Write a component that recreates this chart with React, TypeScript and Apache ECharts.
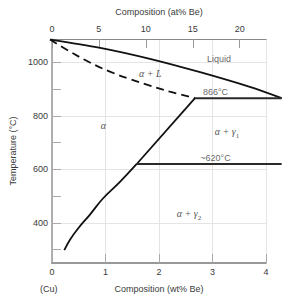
import React, { useEffect, useRef } from "react";
import * as echarts from "echarts";

// Axis ticks / labels
const wtMin = 0;
const wtMax = 4;
const wtTickInterval = 1;
const wtDrawMax = 4.3; // curves run past the framed axis
const atMax = 22.8;
const atTickValues = [0, 5, 10, 15, 20];
const tempMin = 250;
const tempMax = 1087;
const tempLabelValues = [400, 600, 800, 1000];
const tempTickValues = [300, 400, 500, 600, 700, 800, 900, 1000];

// Phase boundaries: [wt% Be, °C]
const liquidus = [[0, 1085], [0.93, 1054], [1.85, 1013], [2.78, 963], [3.7, 908], [4.29, 866]];
const solidus = [[0, 1085], [0.37, 1040], [0.74, 999], [1.11, 965], [1.48, 937], [1.85, 913], [2.22, 890], [2.685, 866]];
const solvusLower = [[0.265, 298], [0.37, 337], [0.52, 379], [0.74, 431], [0.98, 491], [1.3, 554], [1.606, 620]];
const solvusUpper = [[1.606, 620], [2.685, 866]];
const peritecticLine = [[2.685, 866], [4.29, 866]];
const eutectoidLine = [[1.606, 620], [4.29, 620]];

// Annotations: [wt% Be, °C]
const phaseLabels = [
  { name: "α + L", sub: "", value: [1.84, 958] },
  { name: "α", sub: "", value: [0.96, 763] },
  { name: "α + γ", sub: "1", value: [3.27, 742] },
  { name: "α + γ", sub: "2", value: [2.56, 435] },
];
const noteLabels = [
  { name: "Liquid", value: [3.12, 1013] },
  { name: "866°C", value: [3.056, 888] },
  { name: "~620°C", value: [3.056, 643] },
];

const sans = "'Liberation Sans', Arial, Helvetica, sans-serif";
const serif = "'Liberation Serif', 'DejaVu Serif', serif";
const textColor = "#3a3a3a";

const W = 294;
const GRID_LEFT = 50;
const GRID_RIGHT = 28;
const GRID_TOP = 39;
const GRID_BOTTOM = 41;

export default function App() {
  const ref = useRef<HTMLDivElement>(null);
  useEffect(() => {
    const chart = echarts.init(ref.current!, null, { renderer: "svg" });
    const plotW = W - GRID_LEFT - GRID_RIGHT;
    const overflowW = (plotW * (wtDrawMax - wtMin)) / (wtMax - wtMin);
    const lineBase = { type: "line", symbol: "none", clip: false, silent: true, xAxisIndex: 2, yAxisIndex: 2 };
    const hiddenAxis = { axisLine: { show: false }, axisTick: { show: false }, axisLabel: { show: false }, splitLine: { show: false } };
    chart.setOption({
      animation: false,
      backgroundColor: "#ffffff",
      grid: [
        { left: GRID_LEFT, right: GRID_RIGHT, top: GRID_TOP, bottom: GRID_BOTTOM },
        { left: GRID_LEFT, width: overflowW, top: GRID_TOP, bottom: GRID_BOTTOM },
      ],
      xAxis: [
        {
          gridIndex: 0, type: "value", position: "bottom", min: wtMin, max: wtMax, interval: wtTickInterval,
          name: "Composition (wt% Be)", nameLocation: "middle", nameGap: 21,
          nameTextStyle: { fontFamily: sans, fontSize: 9, color: textColor },
          axisLine: { lineStyle: { color: "#777777", width: 1.5 } },
          axisTick: { inside: true, length: 9, lineStyle: { color: "#aaaaaa" } },
          axisLabel: { margin: 4, fontFamily: sans, fontSize: 9, color: textColor },
          splitLine: { show: true, lineStyle: { color: "#e4e4e4", width: 1 } },
        },
        {
          gridIndex: 0, type: "value", position: "top", min: 0, max: atMax,
          name: "Composition (at% Be)", nameLocation: "middle", nameGap: 23,
          nameTextStyle: { fontFamily: sans, fontSize: 9, color: textColor },
          axisLine: { lineStyle: { color: "#888888", width: 1.2 } },
          axisTick: { inside: true, length: 9, customValues: atTickValues, lineStyle: { color: "#999999" } },
          axisLabel: { customValues: atTickValues, margin: 6, fontFamily: sans, fontSize: 9, color: textColor },
          splitLine: { show: false },
        },
        { gridIndex: 1, type: "value", min: wtMin, max: wtDrawMax, ...hiddenAxis },
      ],
      yAxis: [
        {
          gridIndex: 0, type: "value", position: "left", min: tempMin, max: tempMax,
          name: "Temperature (°C)", nameLocation: "middle", nameGap: 33,
          nameTextStyle: { fontFamily: sans, fontSize: 9, color: textColor },
          axisLine: { show: true, lineStyle: { color: "#999999", width: 1.5 } },
          axisTick: { show: false, customValues: tempLabelValues },
          axisLabel: { customValues: tempLabelValues, formatter: (v: number) => String(v), margin: 4, fontFamily: sans, fontSize: 9, color: textColor },
          splitLine: { show: true, lineStyle: { color: "#e4e4e4", width: 1 } },
        },
        {
          gridIndex: 0, type: "value", position: "left", min: tempMin, max: tempMax,
          axisLine: { show: false },
          axisTick: { show: true, inside: true, length: 9, customValues: tempTickValues, lineStyle: { color: "#aaaaaa" } },
          axisLabel: { show: false },
          splitLine: { show: false },
        },
        { gridIndex: 1, type: "value", min: tempMin, max: tempMax, ...hiddenAxis },
      ],
      series: [
        { ...lineBase, data: liquidus, smooth: 0.3, lineStyle: { color: "#111111", width: 1.8 } },
        { ...lineBase, data: solidus, smooth: 0.4, lineStyle: { color: "#111111", width: 1.8, type: [8, 5] } },
        { ...lineBase, data: solvusLower, smooth: 0.4, lineStyle: { color: "#111111", width: 1.8 } },
        { ...lineBase, data: solvusUpper, lineStyle: { color: "#111111", width: 1.8 } },
        { ...lineBase, data: peritecticLine, lineStyle: { color: "#2a2a2a", width: 2 } },
        { ...lineBase, data: eutectoidLine, lineStyle: { color: "#2a2a2a", width: 2 } },
        {
          type: "scatter", silent: true, symbolSize: 1, itemStyle: { color: "rgba(0,0,0,0)" },
          xAxisIndex: 0, yAxisIndex: 0,
          data: phaseLabels,
          label: {
            show: true, position: "inside",
            formatter: (p: any) => (p.data.sub ? `{b|${p.data.name}}{s|${p.data.sub}}` : `{b|${p.data.name}}`),
            rich: {
              b: { fontFamily: serif, fontStyle: "italic", fontSize: 10, color: "#222222", lineHeight: 16, verticalAlign: "middle" },
              s: { fontFamily: serif, fontSize: 7, color: "#222222", lineHeight: 16, verticalAlign: "bottom" },
            },
          },
        },
        {
          type: "scatter", silent: true, symbolSize: 1, itemStyle: { color: "rgba(0,0,0,0)" },
          xAxisIndex: 0, yAxisIndex: 0,
          data: noteLabels,
          label: { show: true, position: "inside", formatter: "{b}", fontFamily: sans, fontSize: 9, color: textColor },
        },
      ],
      graphic: [
        { type: "text", left: 40, top: 284, style: { text: "(Cu)", fontFamily: sans, fontSize: 9, fill: textColor } },
      ],
    });
    return () => chart.dispose();
  }, []);
  return <div ref={ref} style={{ position: "fixed", left: 0, top: 0, width: 294, height: 304 }} />;
}
